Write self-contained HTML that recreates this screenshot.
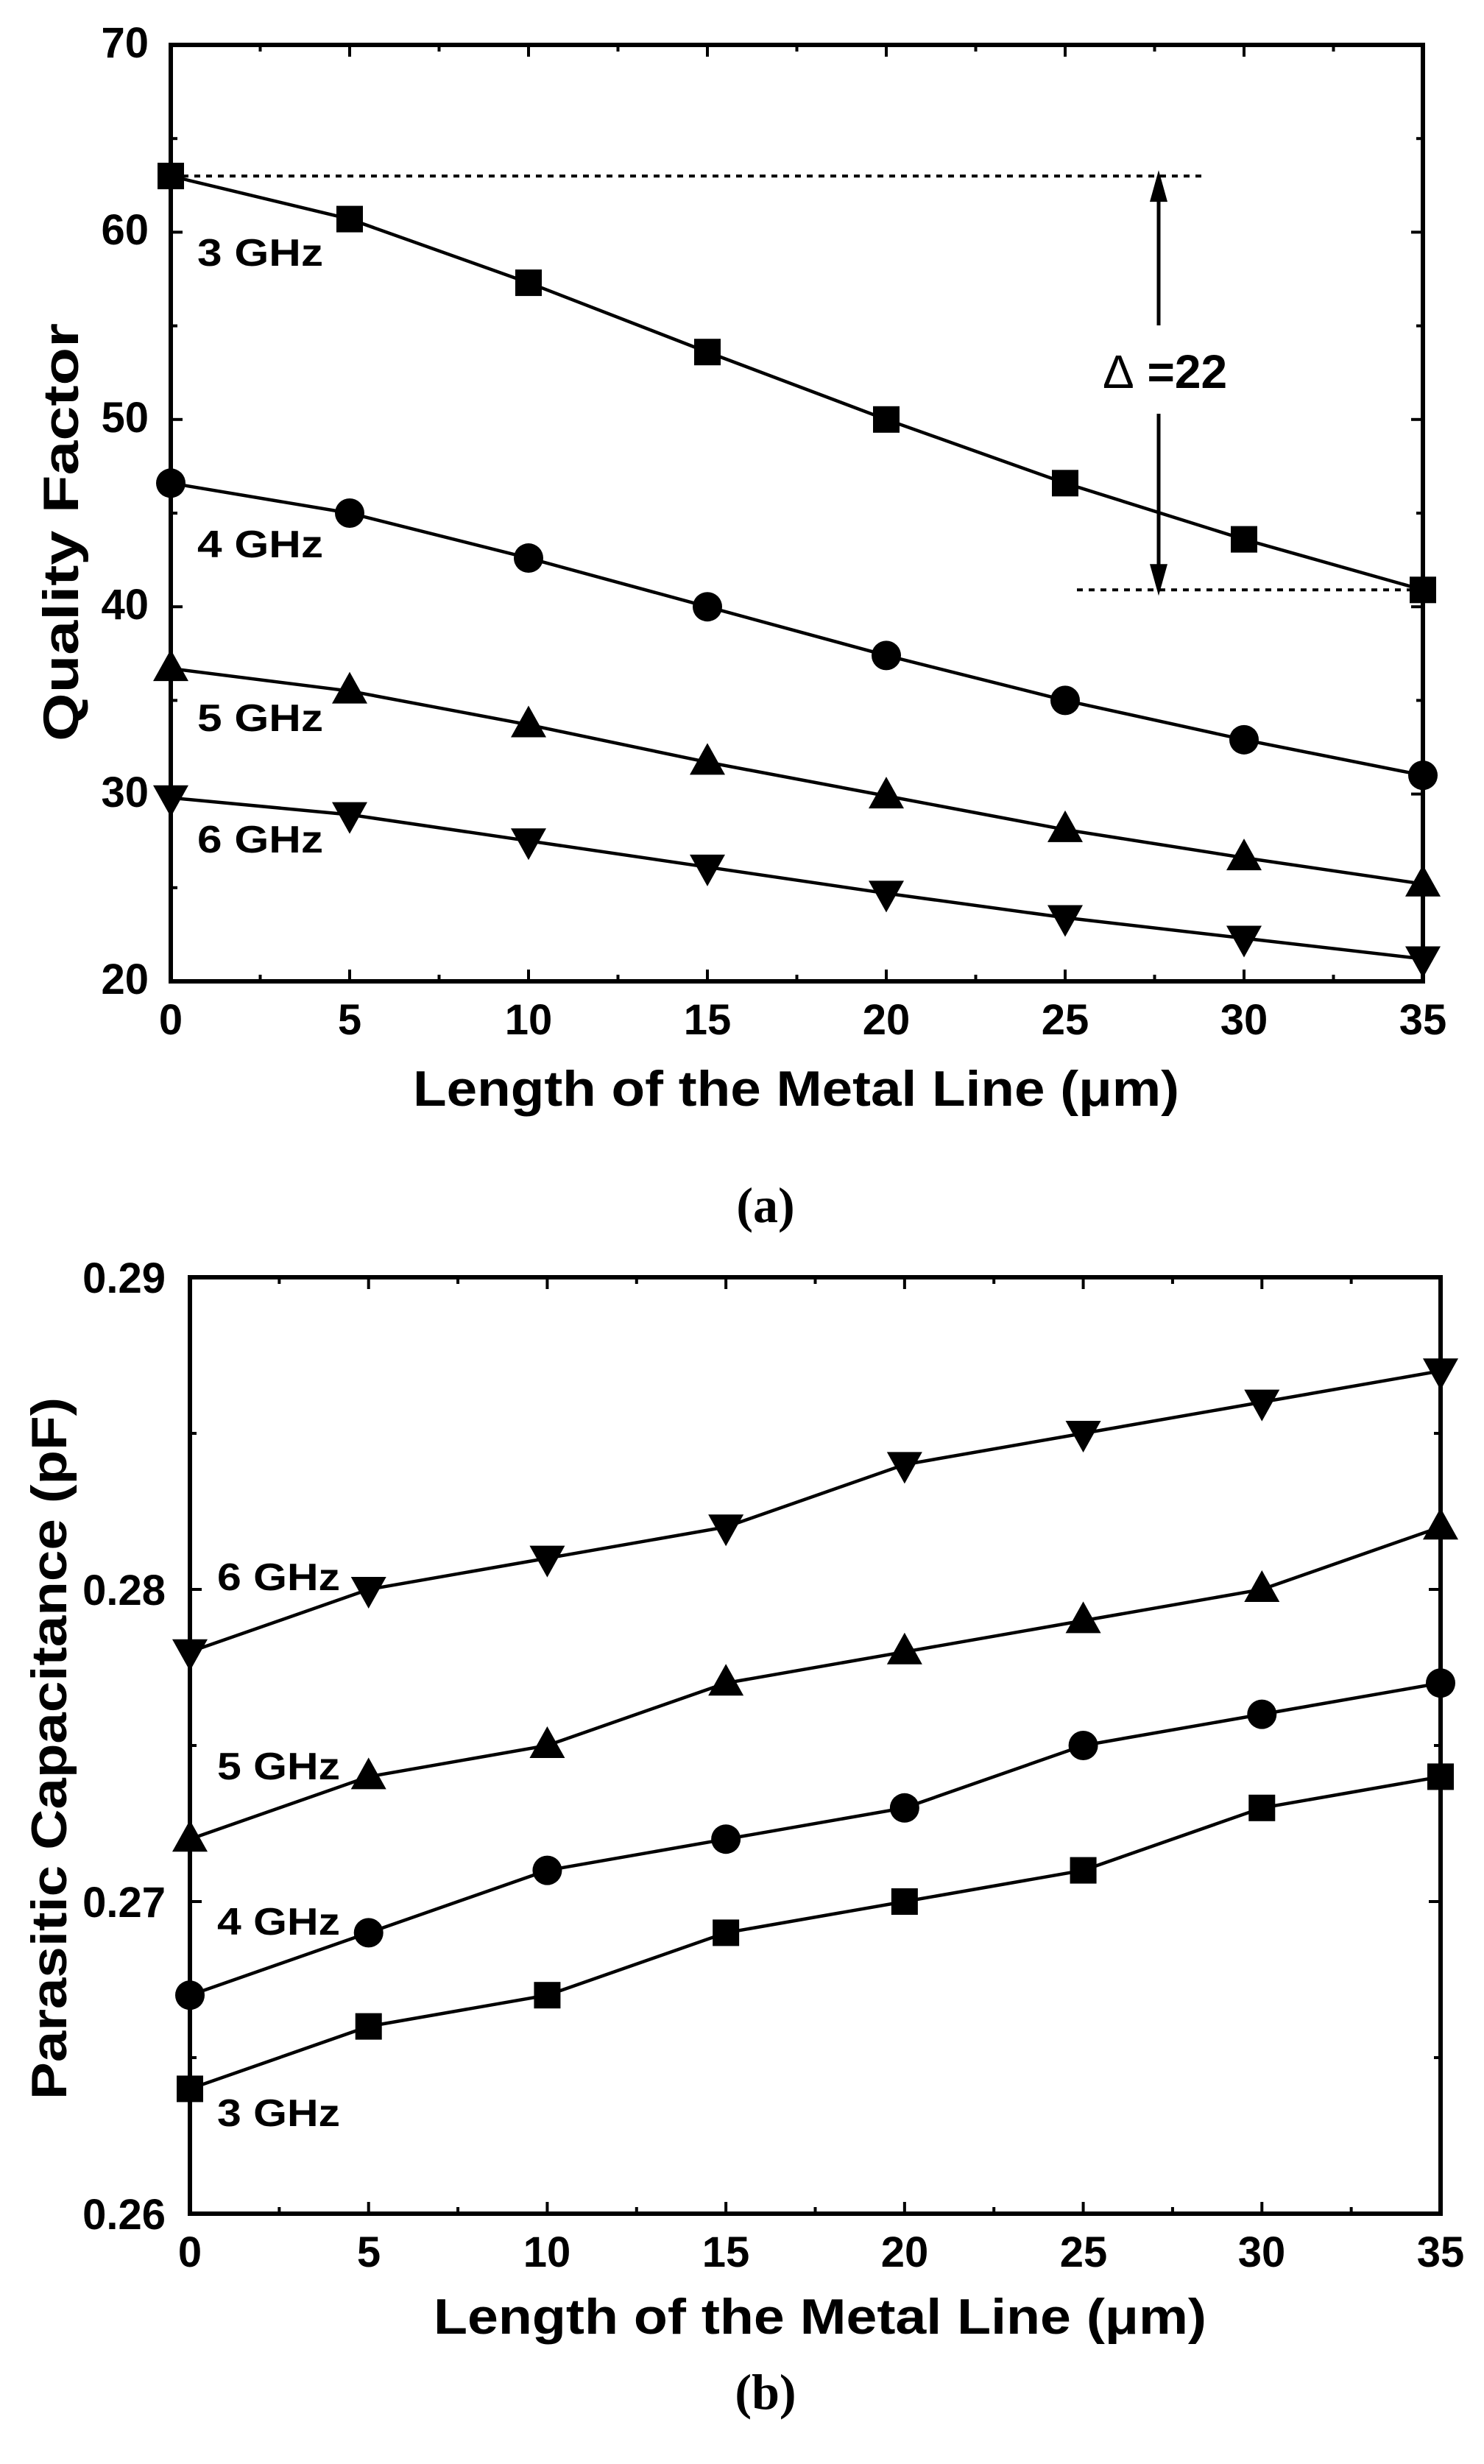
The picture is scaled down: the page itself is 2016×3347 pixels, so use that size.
<!DOCTYPE html>
<html><head><meta charset="utf-8"><style>
html,body{margin:0;padding:0;background:#fff;}
svg{display:block;}
text{font-family:"Liberation Sans",Arial,sans-serif;font-weight:bold;fill:#000;}
</style></head><body>
<svg id="s" width="2016" height="3347" viewBox="0 0 2016 3347" xmlns="http://www.w3.org/2000/svg">
<g id="shapes"></g>
<!-- Plot a texts -->
<g font-size="58" text-anchor="end">
<text x="202" y="78">70</text><text x="202" y="332">60</text><text x="202" y="587">50</text>
<text x="202" y="841">40</text><text x="202" y="1096">30</text><text x="202" y="1350">20</text>
</g>
<g font-size="58" text-anchor="middle">
<text x="232" y="1405">0</text><text x="475" y="1405">5</text><text x="718" y="1405">10</text>
<text x="961" y="1405">15</text><text x="1204" y="1405">20</text><text x="1447" y="1405">25</text>
<text x="1690" y="1405">30</text><text x="1933" y="1405">35</text>
</g>
<text x="561" y="1502" font-size="68" textLength="1041" lengthAdjust="spacingAndGlyphs">Length of the Metal Line (μm)</text>
<text transform="translate(106,723) rotate(-90)" font-size="68" text-anchor="middle" textLength="568" lengthAdjust="spacingAndGlyphs">Quality Factor</text>
<g font-size="52">
<text x="268" y="361" textLength="171" lengthAdjust="spacingAndGlyphs">3 GHz</text>
<text x="268" y="757" textLength="171" lengthAdjust="spacingAndGlyphs">4 GHz</text>
<text x="268" y="993" textLength="171" lengthAdjust="spacingAndGlyphs">5 GHz</text>
<text x="268" y="1158" textLength="171" lengthAdjust="spacingAndGlyphs">6 GHz</text>
</g>
<text x="1498" y="527" font-size="64"><tspan font-weight="normal">Δ</tspan> =22</text>
<text x="1040" y="1660" font-size="68" font-weight="normal" text-anchor="middle" style="font-family:'Liberation Serif',serif">(<tspan font-weight="bold">a</tspan>)</text>
<!-- Plot b texts -->
<g font-size="58" text-anchor="end">
<text x="225" y="1756">0.29</text><text x="225" y="2180">0.28</text>
<text x="225" y="2604">0.27</text><text x="225" y="3028">0.26</text>
</g>
<g font-size="58" text-anchor="middle">
<text x="258" y="3079">0</text><text x="501" y="3079">5</text><text x="743" y="3079">10</text>
<text x="986" y="3079">15</text><text x="1229" y="3079">20</text><text x="1472" y="3079">25</text>
<text x="1714" y="3079">30</text><text x="1957" y="3079">35</text>
</g>
<text x="589" y="3170" font-size="68" textLength="1050" lengthAdjust="spacingAndGlyphs">Length of the Metal Line (μm)</text>
<text transform="translate(90,2375) rotate(-90)" font-size="68" text-anchor="middle" textLength="954" lengthAdjust="spacingAndGlyphs">Parasitic Capacitance (pF)</text>
<g font-size="52">
<text x="295" y="2160" textLength="167" lengthAdjust="spacingAndGlyphs">6 GHz</text>
<text x="295" y="2417" textLength="167" lengthAdjust="spacingAndGlyphs">5 GHz</text>
<text x="295" y="2628" textLength="167" lengthAdjust="spacingAndGlyphs">4 GHz</text>
<text x="295" y="2888" textLength="167" lengthAdjust="spacingAndGlyphs">3 GHz</text>
</g>
<text x="1040" y="3272" font-size="68" font-weight="normal" text-anchor="middle" style="font-family:'Liberation Serif',serif">(<tspan font-weight="bold">b</tspan>)</text>
</svg>
<script>
var g=document.getElementById('shapes'),h='';
function plot(x0,x1,y0,y1,vmin,vmax,ymaj,ymin,series){
 var X=function(v){return x0+(x1-x0)*v/35;},Y=function(v){return y1-(y1-y0)*(v-vmin)/(vmax-vmin);};
 h+='<rect x="'+x0+'" y="'+y0+'" width="'+(x1-x0)+'" height="'+(y1-y0)+'" fill="none" stroke="#000" stroke-width="6"/>';
 for(var v=2.5;v<35;v+=2.5){var L=(v%5==0)?16:9,x=X(v);
  h+='<line x1="'+x+'" y1="'+y1+'" x2="'+x+'" y2="'+(y1-L)+'" stroke="#000" stroke-width="4"/>';
  h+='<line x1="'+x+'" y1="'+y0+'" x2="'+x+'" y2="'+(y0+L)+'" stroke="#000" stroke-width="4"/>';}
 var n=Math.round((vmax-vmin)/ymin);
 for(var i=1;i<n;i++){var v=vmin+i*ymin,L=(i%2==0)?16:9,y=Y(v);
  h+='<line x1="'+x0+'" y1="'+y+'" x2="'+(x0+L)+'" y2="'+y+'" stroke="#000" stroke-width="4"/>';
  h+='<line x1="'+x1+'" y1="'+y+'" x2="'+(x1-L)+'" y2="'+y+'" stroke="#000" stroke-width="4"/>';}
 series.forEach(function(s){var pts=s.d.map(function(v,i){return X(i*5)+','+Y(v);}).join(' ');
  h+='<polyline points="'+pts+'" fill="none" stroke="#000" stroke-width="4.5"/>';
  s.d.forEach(function(v,i){var x=X(i*5),y=Y(v);
   if(s.m=='s')h+='<rect x="'+(x-18)+'" y="'+(y-18)+'" width="36" height="36"/>';
   if(s.m=='c')h+='<circle cx="'+x+'" cy="'+y+'" r="20"/>';
   if(s.m=='u')h+='<polygon points="'+x+','+(y-26)+' '+(x+24)+','+(y+17)+' '+(x-24)+','+(y+17)+'"/>';
   if(s.m=='d')h+='<polygon points="'+x+','+(y+26)+' '+(x+24)+','+(y-17)+' '+(x-24)+','+(y-17)+'"/>';});});
 return {X:X,Y:Y};
}
var a=plot(232,1933,61,1333,20,70,10,5,[
{m:'s',d:[63,60.7,57.3,53.6,50,46.6,43.6,40.9]},
{m:'c',d:[46.6,45,42.6,40,37.4,35,32.9,31]},
{m:'u',d:[36.7,35.5,33.7,31.7,29.9,28.1,26.6,25.2]},
{m:'d',d:[29.8,28.9,27.5,26.1,24.7,23.4,22.3,21.2]}]);
var yt=a.Y(63),yb=a.Y(40.9);
h+='<line x1="232" y1="'+yt+'" x2="1637" y2="'+yt+'" stroke="#000" stroke-width="4" stroke-dasharray="8,8"/>';
h+='<line x1="1463" y1="'+yb+'" x2="1933" y2="'+yb+'" stroke="#000" stroke-width="4" stroke-dasharray="8,8"/>';
h+='<line x1="1574" y1="'+(yt+30)+'" x2="1574" y2="442" stroke="#000" stroke-width="5"/>';
h+='<line x1="1574" y1="562" x2="1574" y2="'+(yb-30)+'" stroke="#000" stroke-width="5"/>';
h+='<polygon points="1574,'+(yt-8)+' 1586,'+(yt+35)+' 1562,'+(yt+35)+'"/>';
h+='<polygon points="1574,'+(yb+8)+' 1586,'+(yb-35)+' 1562,'+(yb-35)+'"/>';
h+='<line x1="1933" y1="'+yb+'" x2="1933" y2="'+a.Y(21.2)+'" stroke="#000" stroke-width="4"/>';
plot(258,1957,1735,3007,0.26,0.29,0.01,0.005,[
{m:'d',d:[.278,.280,.281,.282,.284,.285,.286,.287]},
{m:'u',d:[.272,.274,.275,.277,.278,.279,.280,.282]},
{m:'c',d:[.267,.269,.271,.272,.273,.275,.276,.277]},
{m:'s',d:[.264,.266,.267,.269,.270,.271,.273,.274]}]);
g.innerHTML=h;
</script>
</body></html>
